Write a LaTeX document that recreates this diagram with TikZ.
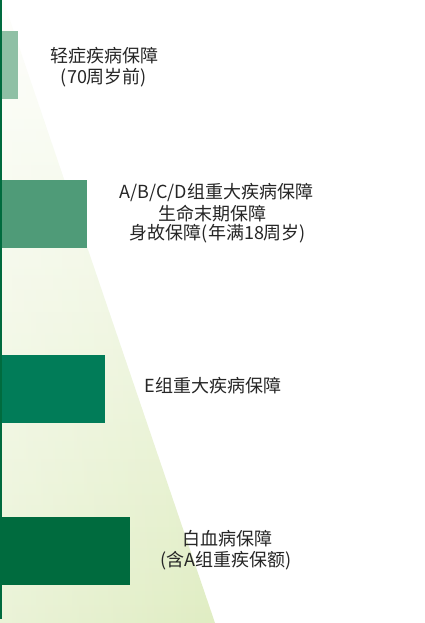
\documentclass[tikz,border=0pt]{standalone}
\usepackage{fontspec}
\setmainfont{Noto Sans CJK SC}
\usetikzlibrary{fadings}
\definecolor{barA}{HTML}{8FC0A5}
\definecolor{barB}{HTML}{4F9B78}
\definecolor{barC}{HTML}{017C58}
\definecolor{barD}{HTML}{006B3E}
\definecolor{axisgreen}{HTML}{006B3E}
\definecolor{wedgeTop}{HTML}{FDFEFA}
\definecolor{wedgeMid}{HTML}{EDF5DC}
\definecolor{wedge}{HTML}{E0EDC3}
\definecolor{txt}{HTML}{262626}
\tikzfading[name=leftwhite, left color=transparent!65, right color=transparent!100]
\begin{document}
\begin{tikzpicture}[x=1pt,y=-1pt,
  lbl/.style={font=\fontsize{18}{21}\selectfont, text=txt, inner sep=0pt, text height=0.88em, text depth=0.12em},
  bar/.style={draw=none, inner sep=0pt, outer sep=0pt, anchor=north west}]
\useasboundingbox (0,0) rectangle (425,623);
\fill[white] (0,0) rectangle (425,623);
% wedge
\shade[top color=wedgeTop, middle color=wedgeMid, bottom color=wedge] (0,0) -- (3,0) -- (215,623) -- (0,623) -- cycle;
\fill[white, path fading=leftwhite] (0,0) -- (3,0) -- (215,623) -- (0,623) -- cycle;
% bars
\node[bar, fill=barA, minimum width=18, minimum height=68] (b1) at (0,31) {};
\node[bar, fill=barB, minimum width=87, minimum height=68] (b2) at (0,180) {};
\node[bar, fill=barC, minimum width=105, minimum height=68] (b3) at (0,355) {};
\node[bar, fill=barD, minimum width=130, minimum height=68] (b4) at (0,517) {};
% axis line
\coordinate (axtop) at (1,0);
\coordinate (axbot) at (1,619);
\draw[axisgreen, line width=2pt] (axtop) -- (axbot);
% labels
\node[lbl] (t1a) at (104,59) {轻症疾病保障};
\node[lbl] (t1b) at (104,80) {(70周岁前)};
\node[lbl] (t2a) at (216.5,195) {A/B/C/D组重大疾病保障};
\node[lbl] (t2b) at (212.5,217) {生命末期保障};
\node[lbl] (t2c) at (218,236) {身故保障(年满18周岁)};
\node[lbl] (t3) at (213,389) {E组重大疾病保障};
\node[lbl] (t4a) at (227,542) {白血病保障};
\node[lbl] (t4b) at (226,563) {(含A组重疾保额)};
\end{tikzpicture}
\end{document}
